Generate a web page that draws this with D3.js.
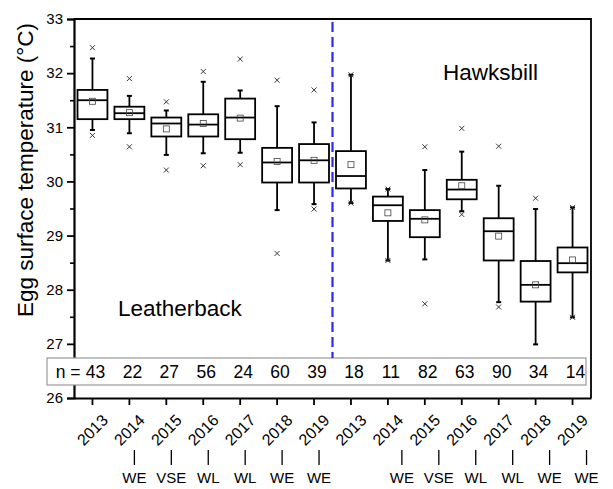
<!doctype html>
<html lang="en">
<head>
<meta charset="UTF-8">
<title>Egg surface temperature</title>
<style>
  body { margin: 0; background: #fff; }
  text { font-family: Arial, "Liberation Sans", sans-serif; fill: #000; }
</style>
</head>
<body>
<svg width="613" height="489"></svg>
<script src="https://cdn.jsdelivr.net/npm/d3@7"></script>
<script>
// data
var years    = ['2013','2014','2015','2016','2017','2018','2019','2013','2014','2015','2016','2017','2018','2019'];
var species  = ['L','L','L','L','L','L','L','H','H','H','H','H','H','H'];
var nCounts  = [43, 22, 27, 56, 24, 60, 39, 18, 11, 82, 63, 90, 34, 14];
var regime   = ['', 'WE', 'VSE', 'WL', 'WL', 'WE', 'WE', '', 'WE', 'VSE', 'WL', 'WL', 'WE', 'WE'];
var whiskLo  = [30.95, 30.89, 30.49, 30.52, 30.53, 29.47, 29.58, 29.60, 28.54, 28.56, 29.45, 27.77, 26.99, 27.49];
var q1       = [31.15, 31.15, 30.83, 30.83, 30.78, 29.98, 29.98, 29.87, 29.27, 28.97, 29.67, 28.54, 27.78, 28.32];
var median   = [31.50, 31.26, 31.07, 31.05, 31.18, 30.35, 30.39, 30.10, 29.56, 29.31, 29.85, 29.08, 28.09, 28.49];
var q3       = [31.69, 31.38, 31.18, 31.24, 31.53, 30.62, 30.69, 30.56, 29.72, 29.47, 30.03, 29.32, 28.53, 28.78];
var whiskHi  = [32.27, 31.58, 31.31, 31.84, 31.68, 31.39, 31.09, 31.97, 29.86, 30.21, 30.55, 29.92, 29.49, 29.52];
var mean     = [31.48, 31.27, 30.97, 31.07, 31.17, 30.37, 30.39, 30.31, 29.42, 29.29, 29.92, 28.99, 28.09, 28.55];
var outHi    = [32.47, 31.90, 31.47, 32.03, 32.26, 31.87, 31.69, 31.97, 29.86, 30.64, 30.98, 30.65, 29.69, 29.52];
var outLo    = [30.85, 30.64, 30.21, 30.29, 30.31, 28.67, 29.49, 29.60, 28.54, 27.74, 29.39, 27.68, null, 27.49];
var yTicks   = [26, 27, 28, 29, 30, 31, 32, 33];

var svg = d3.select('svg');
var plotL = 74, plotR = 591, plotT = 19, plotB = 398;

var keys = d3.range(years.length);
var x = d3.scaleBand()
    .domain(keys)
    .range([plotL, plotR]);
var y = d3.scaleLinear()
    .domain([26, 33])
    .range([plotB, plotT]);
var cx = function(i) { return x(i) + x.bandwidth() / 2; };

// frame
svg.append('path')
    .attr('d', 'M' + plotL + ',' + plotT + 'H' + plotR + 'V' + plotB)
    .attr('fill', 'none')
    .attr('stroke', '#000')
    .attr('stroke-width', 1.8);

// y axis
var yAxis = svg.append('g')
    .attr('transform', 'translate(' + plotL + ',0)')
    .call(d3.axisLeft(y).tickValues(yTicks).tickFormat(d3.format('d')).tickSize(7).tickPadding(4));
yAxis.select('.domain').attr('stroke-width', 2.2);
yAxis.selectAll('.tick line').attr('stroke-width', 1.8);
yAxis.selectAll('text').style('font-size', '15px').style('font-family', 'Arial, "Liberation Sans", sans-serif');
svg.append('g')
    .attr('transform', 'translate(' + plotL + ',0)')
    .call(d3.axisLeft(y).tickValues(d3.range(26.5, 33, 1)).tickFormat('').tickSize(4))
    .call(function(g) { g.select('.domain').remove(); })
    .selectAll('line').attr('stroke-width', 1.6);

// x axis
var xAxis = svg.append('g')
    .attr('transform', 'translate(0,' + plotB + ')')
    .call(d3.axisBottom(x).tickFormat('').tickSize(7).tickSizeOuter(0));
xAxis.select('.domain').attr('stroke-width', 2.2);
xAxis.selectAll('.tick line').attr('stroke-width', 1.8);

// rotated year labels
svg.append('g').selectAll('text')
    .data(keys)
    .enter()
    .append('text')
    .attr('transform', function(i) { return 'translate(' + cx(i) + ',430) rotate(-45)'; })
    .attr('text-anchor', 'middle')
    .attr('dominant-baseline', 'central')
    .style('font-size', '16px')
    .text(function(i) { return years[i]; });

// regime annotations
var anno = svg.append('g').selectAll('g')
    .data(keys.filter(function(i) { return regime[i] !== ''; }))
    .enter()
    .append('g')
    .attr('transform', function(i) {
        var shift = species[i] === 'L' ? 5 : 14;
        return 'translate(' + (cx(i) + shift) + ',0)';
    });
anno.append('line')
    .attr('y1', 450).attr('y2', 465)
    .attr('stroke', '#000')
    .attr('stroke-width', 1.3);
anno.append('text')
    .attr('y', 483)
    .attr('text-anchor', 'middle')
    .style('font-size', '15px')
    .text(function(i) { return regime[i]; });

// n box
svg.append('rect')
    .attr('x', 47).attr('y', 358)
    .attr('width', 539).attr('height', 27)
    .attr('fill', '#fff')
    .attr('stroke', '#999')
    .attr('stroke-width', 1.2);
svg.append('text')
    .attr('x', cx(0) - 12)
    .attr('y', 377.5)
    .attr('text-anchor', 'end')
    .style('font-size', '17.5px')
    .text('n =');
svg.append('g').selectAll('text')
    .data(keys)
    .enter()
    .append('text')
    .attr('x', function(i) { return cx(i) + 3; })
    .attr('y', 377.5)
    .attr('text-anchor', 'middle')
    .style('font-size', '17.5px')
    .text(function(i) { return nCounts[i]; });

// divider
var split = x(7);
svg.append('line')
    .attr('x1', split).attr('x2', split)
    .attr('y1', 22).attr('y2', 358)
    .attr('stroke', '#2b2be6')
    .attr('stroke-width', 2.2)
    .attr('stroke-dasharray', '10,5');

// boxes
var bw = x.bandwidth() * 0.81;
var boxes = svg.append('g').selectAll('g')
    .data(keys)
    .enter()
    .append('g')
    .attr('transform', function(i) { return 'translate(' + cx(i) + ',0)'; });
boxes.append('line')
    .attr('y1', function(i) { return y(whiskHi[i]); })
    .attr('y2', function(i) { return y(q3[i]); })
    .attr('stroke', '#000').attr('stroke-width', 1.8);
boxes.append('line')
    .attr('y1', function(i) { return y(q1[i]); })
    .attr('y2', function(i) { return y(whiskLo[i]); })
    .attr('stroke', '#000').attr('stroke-width', 1.8);
boxes.selectAll('.cap')
    .data(function(i) { return [whiskHi[i], whiskLo[i]]; })
    .enter()
    .append('line')
    .attr('x1', -2.5).attr('x2', 2.5)
    .attr('y1', function(v) { return y(v); })
    .attr('y2', function(v) { return y(v); })
    .attr('stroke', '#000').attr('stroke-width', 2);
boxes.append('rect')
    .attr('x', -bw / 2)
    .attr('width', bw)
    .attr('y', function(i) { return y(q3[i]); })
    .attr('height', function(i) { return y(q1[i]) - y(q3[i]); })
    .attr('fill', 'none')
    .attr('stroke', '#000').attr('stroke-width', 1.8);
boxes.append('line')
    .attr('x1', -bw / 2).attr('x2', bw / 2)
    .attr('y1', function(i) { return y(median[i]); })
    .attr('y2', function(i) { return y(median[i]); })
    .attr('stroke', '#000').attr('stroke-width', 1.8);
boxes.append('rect')
    .attr('x', -3).attr('width', 6).attr('height', 6)
    .attr('y', function(i) { return y(mean[i]) - 3; })
    .attr('fill', 'none')
    .attr('stroke', '#444').attr('stroke-width', 0.8);
boxes.selectAll('.out')
    .data(function(i) { return [outHi[i], outLo[i]].filter(function(v) { return v !== null; }); })
    .enter()
    .append('path')
    .attr('d', function(v) {
        var yy = y(v);
        return 'M-2.5,' + (yy - 2.5) + 'L2.5,' + (yy + 2.5) + 'M-2.5,' + (yy + 2.5) + 'L2.5,' + (yy - 2.5);
    })
    .attr('stroke', '#222').attr('stroke-width', 0.9);

// labels
svg.append('text')
    .attr('transform', 'translate(33,170) rotate(-90)')
    .attr('text-anchor', 'middle')
    .style('font-size', '22.5px')
    .text('Egg surface temperature (°C)');
svg.append('text')
    .attr('x', 443).attr('y', 80)
    .style('font-size', '22.5px')
    .text('Hawksbill');
svg.append('text')
    .attr('x', 118).attr('y', 316)
    .style('font-size', '22.5px')
    .text('Leatherback');
</script>
</body>
</html>
